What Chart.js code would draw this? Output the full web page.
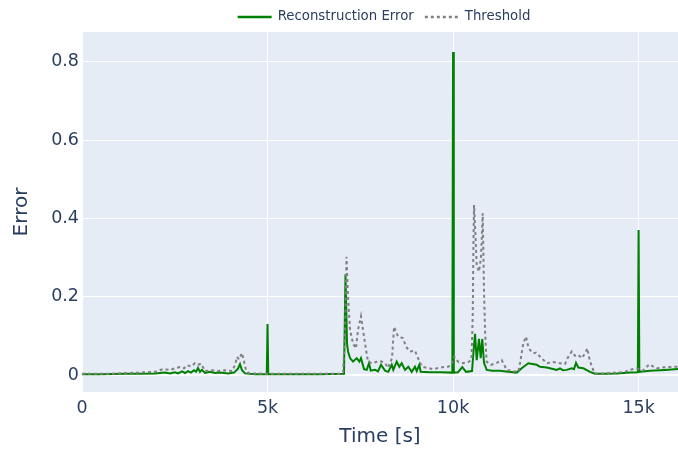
<!DOCTYPE html>
<html>
<head>
<meta charset="utf-8">
<script src="https://cdn.jsdelivr.net/npm/chart.js@4.4.1/dist/chart.umd.min.js"></script>
<style>
  html, body { margin: 0; padding: 0; background: #ffffff; }
  #wrap { width: 678px; height: 457px; position: relative; }
</style>
</head>
<body>
<div id="wrap"><canvas id="chart" width="678" height="457"></canvas></div>
<script>
// Reconstruction error of the model over time (seconds)
const errorTime = [
  0, 485, 1159, 1563, 1967, 2237, 2372, 2506, 2587, 2695, 2776, 2857, 2938, 3018, 3072, 3126, 3180, 3234,
  3315, 3450, 3584, 3719, 3935, 4096, 4204, 4258, 4312, 4393, 4662, 4980, 5000, 5020, 5606, 6414,
  7061, 7101, 7142, 7169, 7223, 7304, 7403, 7474, 7519, 7600, 7673, 7735, 7781, 7896, 7977, 8058,
  8166, 8255, 8347, 8390, 8481, 8551, 8616, 8705, 8794, 8886, 8974, 9020, 9090, 9128, 9379, 9648,
  9980, 10000, 10020, 10133, 10249, 10349, 10511, 10551, 10592, 10637, 10699, 10745, 10788, 10834,
  10907, 11050, 11265, 11481, 11715, 11858, 12028, 12254, 12343, 12524, 12667, 12793, 12882, 12963,
  13063, 13198, 13259, 13313, 13376, 13510, 13691, 13825, 14095, 14410, 14769, 14980, 15000, 15020,
  15308, 15712, 16062
];
const errorValue = [
  0.002, 0.002, 0.003, 0.003, 0.004, 0.006, 0.004, 0.007, 0.004, 0.009, 0.005, 0.010, 0.006, 0.012, 0.008, 0.018, 0.008, 0.013,
  0.005, 0.008, 0.005, 0.006, 0.004, 0.006, 0.016, 0.028, 0.012, 0.004, 0.002, 0.002, 0.130, 0.002, 0.002, 0.002,
  0.003, 0.257, 0.080, 0.060, 0.043, 0.034, 0.043, 0.034, 0.043, 0.015, 0.013, 0.030, 0.011, 0.013, 0.009, 0.026,
  0.011, 0.008, 0.026, 0.013, 0.034, 0.021, 0.030, 0.013, 0.021, 0.008, 0.021, 0.010, 0.026, 0.008, 0.007, 0.007,
  0.006, 0.825, 0.006, 0.007, 0.020, 0.008, 0.010, 0.060, 0.105, 0.038, 0.092, 0.043, 0.092, 0.031,
  0.013, 0.011, 0.011, 0.008, 0.006, 0.018, 0.030, 0.026, 0.021, 0.019, 0.016, 0.013, 0.017, 0.012,
  0.013, 0.017, 0.015, 0.031, 0.019, 0.017, 0.008, 0.003, 0.003, 0.004, 0.006, 0.007, 0.370, 0.008,
  0.011, 0.013, 0.015
];

// Anomaly threshold over time (seconds)
const thresholdTime = [
  0, 755, 1159, 1563, 1967, 2183, 2372, 2506, 2641, 2749, 2830, 2938, 3045, 3126, 3207, 3315, 3504, 3665,
  3854, 4042, 4123, 4177, 4231, 4312, 4366, 4420, 4501, 4986, 5875, 6953, 7034, 7088, 7128, 7169,
  7223, 7304, 7384, 7438, 7519, 7573, 7654, 7708, 7815, 7923, 8031, 8166, 8247, 8355, 8409, 8516,
  8651, 8732, 8840, 8974, 9055, 9163, 9460, 9729, 9864, 9945, 10034, 10133, 10268, 10430, 10497, 10530,
  10551, 10565, 10592, 10637, 10699, 10753, 10799, 10834, 10861, 10904, 11023, 11157, 11311, 11446,
  11589, 11759, 11804, 11893, 11966, 12020, 12074, 12163, 12235, 12343, 12524, 12694, 12882, 13016,
  13097, 13198, 13287, 13368, 13468, 13557, 13619, 13665, 13737, 13825, 14095, 14410, 14634, 14769,
  14949, 15110, 15288, 15487, 15712, 16062
];
const thresholdValue = [
  0.003, 0.003, 0.005, 0.006, 0.008, 0.015, 0.013, 0.017, 0.020, 0.017, 0.025, 0.022, 0.030, 0.026, 0.029, 0.010, 0.012, 0.010,
  0.012, 0.010, 0.025, 0.046, 0.040, 0.056, 0.035, 0.012, 0.004, 0.003, 0.003, 0.003, 0.008, 0.100, 0.302, 0.200,
  0.115, 0.080, 0.068, 0.115, 0.150, 0.115, 0.064, 0.034, 0.030, 0.033, 0.036, 0.030, 0.018, 0.043, 0.123, 0.098,
  0.094, 0.072, 0.060, 0.062, 0.043, 0.021, 0.015, 0.020, 0.021, 0.025, 0.047, 0.034, 0.030, 0.034, 0.040, 0.150,
  0.350, 0.434, 0.380, 0.281, 0.264, 0.300, 0.413, 0.217, 0.115, 0.034, 0.026, 0.030, 0.038, 0.013,
  0.010, 0.008, 0.030, 0.081, 0.098, 0.075, 0.064, 0.055, 0.057, 0.047, 0.030, 0.033, 0.030, 0.028,
  0.045, 0.060, 0.049, 0.052, 0.043, 0.055, 0.068, 0.045, 0.021, 0.004, 0.004, 0.006, 0.008, 0.013,
  0.017, 0.011, 0.027, 0.017, 0.020, 0.021
];

const xTicks = [0, 5000, 10000, 15000];
const yTicks = [0, 0.2, 0.4, 0.6, 0.8];
const xRange = [0, 16062];
const yRange = [-0.0435, 0.876];

const TEXT = '#2a3f5f';
const FONT = "'DejaVu Sans', Verdana, sans-serif";

const toPoints = (xs, ys) => xs.map((x, i) => ({ x: x, y: ys[i] }));

// Light blue-grey plotting surface behind the traces
const plotBackground = {
  id: 'plotBackground',
  beforeDraw(chart) {
    const { ctx, chartArea: a } = chart;
    ctx.save();
    ctx.fillStyle = '#E5ECF6';
    ctx.fillRect(a.left, a.top, a.right - a.left, a.bottom - a.top);
    ctx.restore();
  }
};

// Horizontal legend centred above the plot
const topLegend = {
  id: 'topLegend',
  afterDraw(chart) {
    const { ctx } = chart;
    const items = chart.data.datasets.map(d => ({ label: d.label, color: d.borderColor, dash: d.borderDash || [] }));
    ctx.save();
    ctx.font = "13.3px " + FONT;
    ctx.textBaseline = 'middle';
    const sw = 34, gap = 6, between = 11;
    let total = 0;
    items.forEach((it, i) => { total += sw + gap + ctx.measureText(it.label).width + (i ? between : 0); });
    let x = 384 - total / 2;
    const y = 17;
    items.forEach((it, i) => {
      if (i) x += between;
      ctx.beginPath();
      ctx.setLineDash(it.dash);
      ctx.strokeStyle = it.color;
      ctx.lineWidth = 2.5;
      ctx.moveTo(x, y);
      ctx.lineTo(x + sw, y);
      ctx.stroke();
      ctx.setLineDash([]);
      x += sw + gap;
      ctx.fillStyle = TEXT;
      ctx.fillText(it.label, x, y);
      x += ctx.measureText(it.label).width;
    });
    ctx.restore();
  }
};

new Chart(document.getElementById('chart'), {
  type: 'line',
  data: {
    datasets: [
      {
        label: 'Reconstruction Error',
        data: toPoints(errorTime, errorValue),
        borderColor: '#008000',
        borderWidth: 2,
        pointRadius: 0,
        tension: 0,
        order: 1
      },
      {
        label: 'Threshold',
        data: toPoints(thresholdTime, thresholdValue),
        borderColor: '#808080',
        borderWidth: 2,
        borderDash: [3, 3],
        pointRadius: 0,
        tension: 0,
        order: 0
      }
    ]
  },
  options: {
    responsive: false,
    animation: false,
    layout: { padding: { top: 32, right: 0, left: 0, bottom: 0 } },
    plugins: {
      legend: { display: false },
      tooltip: { enabled: false }
    },
    scales: {
      x: {
        type: 'linear',
        min: xRange[0],
        max: xRange[1],
        afterBuildTicks: s => { s.ticks = xTicks.map(v => ({ value: v })); },
        afterFit: s => { s.height = 65; },
        grid: { color: '#ffffff', lineWidth: 1, drawTicks: false },
        border: { display: false },
        ticks: {
          color: TEXT,
          font: { family: FONT, size: 17.5 },
          padding: 6,
          maxRotation: 0,
          callback: v => v === 0 ? '0' : (v / 1000) + 'k'
        },
        title: {
          display: true,
          text: 'Time [s]',
          color: TEXT,
          font: { family: FONT, size: 20 },
          padding: { top: 0, bottom: 8 }
        }
      },
      y: {
        type: 'linear',
        min: yRange[0],
        max: yRange[1],
        afterBuildTicks: s => { s.ticks = yTicks.map(v => ({ value: v })); },
        afterFit: s => { s.width = 82; },
        grid: {
          color: '#ffffff',
          lineWidth: ctx => (ctx.tick && ctx.tick.value === 0 ? 2 : 1),
          drawTicks: false
        },
        border: { display: false },
        ticks: {
          color: TEXT,
          font: { family: FONT, size: 17.5 },
          padding: 3,
          callback: v => String(Math.round(v * 10) / 10)
        },
        title: {
          display: true,
          text: 'Error',
          color: TEXT,
          font: { family: FONT, size: 20 },
          padding: { top: 10, bottom: 0 }
        }
      }
    }
  },
  plugins: [plotBackground, topLegend]
});
</script>
</body>
</html>
